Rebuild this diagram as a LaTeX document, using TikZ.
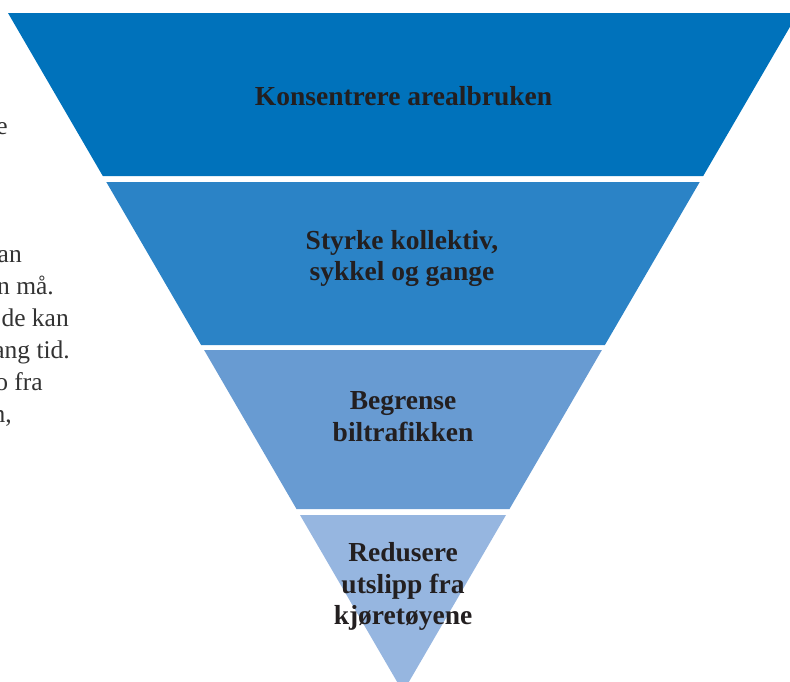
\documentclass[tikz,border=0pt]{standalone}
\usepackage{fontspec}
\setmainfont{Liberation Serif}
\definecolor{bandA}{HTML}{0072BB}
\definecolor{bandB}{HTML}{2B83C6}
\definecolor{bandC}{HTML}{689BD2}
\definecolor{bandD}{HTML}{96B6E0}
\definecolor{labelink}{HTML}{231F20}
\definecolor{bodyink}{HTML}{333333}
\begin{document}
\begin{tikzpicture}[x=1pt,y=-1pt,
  bandlabel/.style={font=\bfseries\fontsize{27.5}{31.5}\selectfont, text=labelink, align=center, inner sep=0pt},
  bodytext/.style={font=\fontsize{25.5}{32}\selectfont, text=bodyink, inner sep=0pt, anchor=base east}]
\useasboundingbox (0,0) rectangle (790,681);
\clip (0,0) rectangle (790,681);

% inverted pyramid, four bands separated by thin white gaps
\fill[bandA] (8,13) -- (798,13) -- (703.2,176) -- (102.8,176) -- cycle;
\fill[bandB] (106.3,182) -- (699.7,182) -- (604.9,345) -- (201.1,345) -- cycle;
\fill[bandC] (204.1,350) -- (601.9,350) -- (509.5,509) -- (296.5,509) -- cycle;
\fill[bandD] (300,515) -- (506,515) -- (403,692) -- cycle;

% band labels
\node[bandlabel, anchor=base] (areal) at (403.5,105.5) {Konsentrere arealbruken};
\node[bandlabel] (kollektiv) at (402,258.5) {Styrke kollektiv,\\sykkel og gange};
\node[bandlabel] (biltrafikk) at (403,416.5) {Begrense\\biltrafikken};
\node[bandlabel] (utslipp) at (403,586.5) {Redusere\\utslipp fra\\kjøretøyene};

% running text column at the left edge
\node[bodytext] (t1) at (8,134) {e};
\node[bodytext] (t2) at (22,262) {an};
\node[bodytext] (t3) at (54,294) {n må.};
\node[bodytext] (t4) at (69,326) {de kan};
\node[bodytext] (t5) at (70,358) {ang tid.};
\node[bodytext] (t6) at (43,390) {o fra};
\node[bodytext] (t7) at (12,422) {n,};
\end{tikzpicture}
\end{document}
